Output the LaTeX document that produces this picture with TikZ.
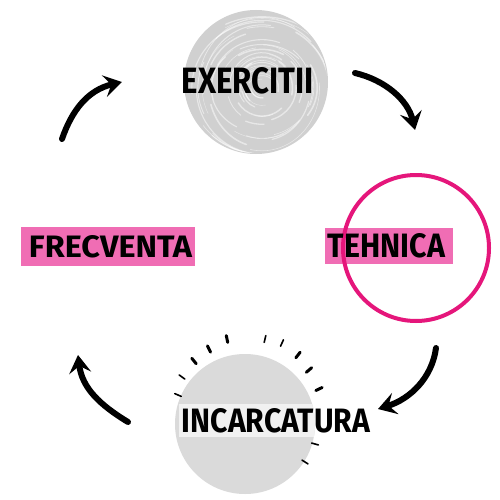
\documentclass[tikz,border=0pt]{standalone}
\usepackage{fontspec}
\setmainfont{Fira Sans}
\usetikzlibrary{arrows.meta,calc}
\definecolor{hl}{HTML}{F06DB4}
\definecolor{ring}{HTML}{E5167B}
\definecolor{disc}{HTML}{DADADA}
\definecolor{scrib}{HTML}{D0D0D0}
\definecolor{backdrop}{HTML}{F1F1F1}
\begin{document}
\begin{tikzpicture}[x=1pt,y=-1pt,
  lbl/.style={inner sep=0pt, text=black},
  hlbox/.style={fill=hl, inner sep=0pt},
  brush/.style={line width=6pt, line cap=round, -{Stealth[length=18pt,width=22pt,inset=7pt]}},
  raybig/.style={line width=3pt, line cap=round},
  raysmall/.style={line width=1.6pt, line cap=round},
  streak/.style={white, line cap=round, opacity=0.5}]
\useasboundingbox (0,0) rectangle (500,500);
\fill[white] (0,0) rectangle (500,500);

% ---- top scribbled disc ----
\coordinate (ctop) at (256,82);
\coordinate (cswirl) at (262,88);
\fill[scrib] (ctop) circle[radius=72];
\begin{scope}
\clip (ctop) circle[radius=71];
\pgfmathsetseed{4217}
\foreach \i in {1,...,70}{
  \pgfmathsetmacro{\r}{6+66*rnd}
  \pgfmathsetmacro{\rx}{\r*(0.9+0.25*rnd)}
  \pgfmathsetmacro{\a}{360*rnd}
  \pgfmathsetmacro{\len}{20+90*rnd}
  \pgfmathsetmacro{\w}{0.3+1.3*rnd}
  \pgfmathsetmacro{\sx}{\rx*cos(\a)}
  \pgfmathsetmacro{\sy}{\r*sin(\a)}
  \draw[streak, line width=\w pt] ($(cswirl)+(\sx,\sy)$) arc[start angle=\a, delta angle=\len, x radius=\rx, y radius=\r];
}
\end{scope}
\node[lbl] (ex) at (248,81) {\resizebox{132pt}{26pt}{\bfseries EXERCITII}};

% ---- right: TEHNICA ----
\node[hlbox, minimum width=128pt, minimum height=36pt] (tehbox) at (389,246) {};
\coordinate (cright) at (416,248);
\draw[ring, line width=4pt] (cright) circle[radius=73];
\node[lbl] (teh) at (386.5,246) {\resizebox{117pt}{24pt}{\bfseries TEHNICA}};

% ---- left: FRECVENTA ----
\node[hlbox, minimum width=174pt, minimum height=39pt] (frbox) at (108,246.5) {};
\node[lbl] (fr) at (110.5,247) {\resizebox{163pt}{22pt}{\bfseries FRECVENTA}};

% ---- bottom disc ----
\coordinate (cbot) at (245,424);
\fill[disc] (cbot) circle[radius=70];
\begin{scope}
  \clip (cbot) circle[radius=70];
  \fill[backdrop] (179,404) rectangle (320,437);
\end{scope}
\foreach \px/\py/\s in {178/395/raysmall, 182/377/raysmall, 194/361/raybig, 209/349/raybig, 227/339/raybig, 265/339/raysmall, 282/343/raysmall, 298/355/raybig, 309/370/raybig, 319/389/raybig, 315/444/raysmall, 305/462/raysmall}
{
  \coordinate (r) at (\px,\py);
  \draw[\s] ($(r)!3.5pt!(cbot)$) -- ($(r)!-3.5pt!(cbot)$);
}
\node[lbl] (inc) at (276,421) {\resizebox{188pt}{24pt}{\bfseries INCARCATURA}};

% ---- arrows ----
\coordinate (a1s) at (62,139);  \coordinate (a1e) at (122,82);
\coordinate (a2s) at (355,73);  \coordinate (a2e) at (415,130);
\coordinate (a3s) at (436,348); \coordinate (a3e) at (378,409);
\coordinate (a4s) at (128,422); \coordinate (a4e) at (78,355);
\draw[brush] (a1s) .. controls (72,110) and (88,90) .. (a1e);
\draw[brush] (a2s) .. controls (385,80) and (408,100) .. (a2e);
\draw[brush] (a3s) .. controls (432,378) and (410,399) .. (a3e);
\draw[brush] (a4s) .. controls (100,405) and (82,388) .. (a4e);
\end{tikzpicture}
\end{document}
